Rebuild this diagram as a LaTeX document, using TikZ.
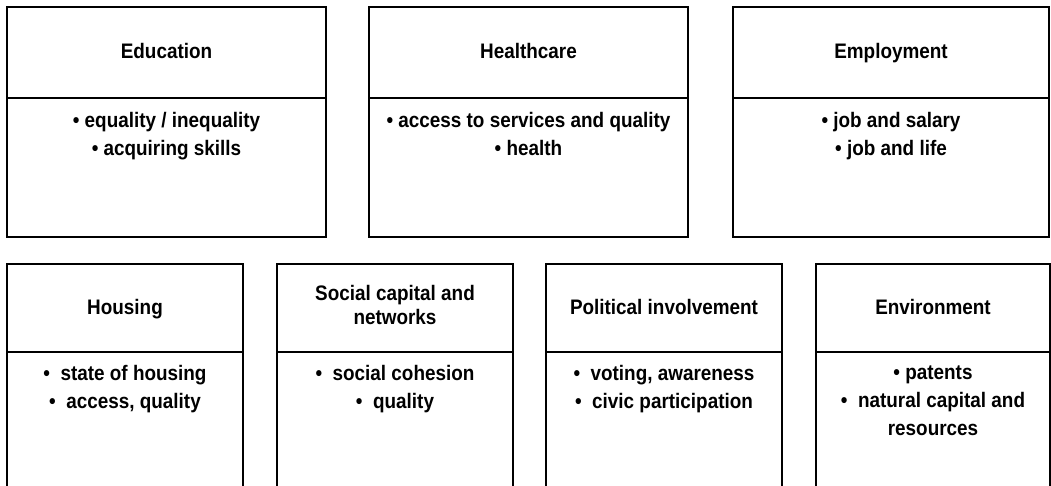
\documentclass[tikz,border=0pt]{standalone}
\usepackage{fontspec}
\setmainfont{Liberation Sans}[FakeStretch=0.9]
\usetikzlibrary{positioning}
\newcommand{\topstrut}{\rule{0pt}{19pt}}
\newcommand{\botstrut}{\rule[-6pt]{0pt}{6pt}}
\tikzset{
  head/.style={draw,line width=2pt,outer sep=0pt,align=center,anchor=north west,
    font=\bfseries\fontsize{21}{24}\selectfont,
    execute at begin node=\topstrut,execute at end node=\botstrut},
  panel/.style={draw,line width=2pt,outer sep=0pt},
  items/.style={align=center,anchor=north,inner sep=0pt}
}
\begin{document}
\begin{tikzpicture}[x=1pt,y=-1pt,font=\bfseries\fontsize{21}{28}\selectfont]
\useasboundingbox (0,0) rectangle (1051,486);
\clip (0,0) rectangle (1051,486);
% top row, three wide boxes
\node[head,minimum width=319pt,minimum height=91pt] (edu) at (7,7) {Education};
\node[panel,minimum width=319pt,minimum height=139pt,below=0pt of edu] (edu-body) {};
\node[items,below=14pt of edu-body.north] (edu-list) {• equality / inequality\\• acquiring skills};
\node[head,minimum width=319pt,minimum height=91pt] (health) at (369,7) {Healthcare};
\node[panel,minimum width=319pt,minimum height=139pt,below=0pt of health] (health-body) {};
\node[items,below=14pt of health-body.north] (health-list) {• access to services and quality\\• health};
\node[head,minimum width=316pt,minimum height=91pt] (job) at (733,7) {Employment};
\node[panel,minimum width=316pt,minimum height=139pt,below=0pt of job] (job-body) {};
\node[items,below=14pt of job-body.north] (job-list) {• job and salary\\• job and life};
% bottom row, four narrow boxes, cut off below
\node[head,minimum width=236pt,minimum height=88pt] (house) at (7,264) {Housing};
\node[panel,minimum width=236pt,minimum height=160pt,below=0pt of house] (house-body) {};
\node[items,below=13.5pt of house-body.north] (house-list) {•\ \ state of housing\\•\ \ access, quality};
\node[head,minimum width=236pt,minimum height=88pt] (social) at (277,264) {Social capital and\\networks};
\node[panel,minimum width=236pt,minimum height=160pt,below=0pt of social] (social-body) {};
\node[items,below=13.5pt of social-body.north] (social-list) {•\ \ social cohesion\\•\ \ quality};
\node[head,minimum width=236pt,minimum height=88pt] (vote) at (546,264) {Political involvement};
\node[panel,minimum width=236pt,minimum height=160pt,below=0pt of vote] (vote-body) {};
\node[items,below=13.5pt of vote-body.north] (vote-list) {•\ \ voting, awareness\\•\ \ civic participation};
\node[head,minimum width=234pt,minimum height=88pt] (env) at (816,264) {Environment};
\node[panel,minimum width=234pt,minimum height=160pt,below=0pt of env] (env-body) {};
\node[items,below=13.5pt of env-body.north] (env-list) {• patents\\•\ \ natural capital and\\resources};
\end{tikzpicture}
\end{document}
